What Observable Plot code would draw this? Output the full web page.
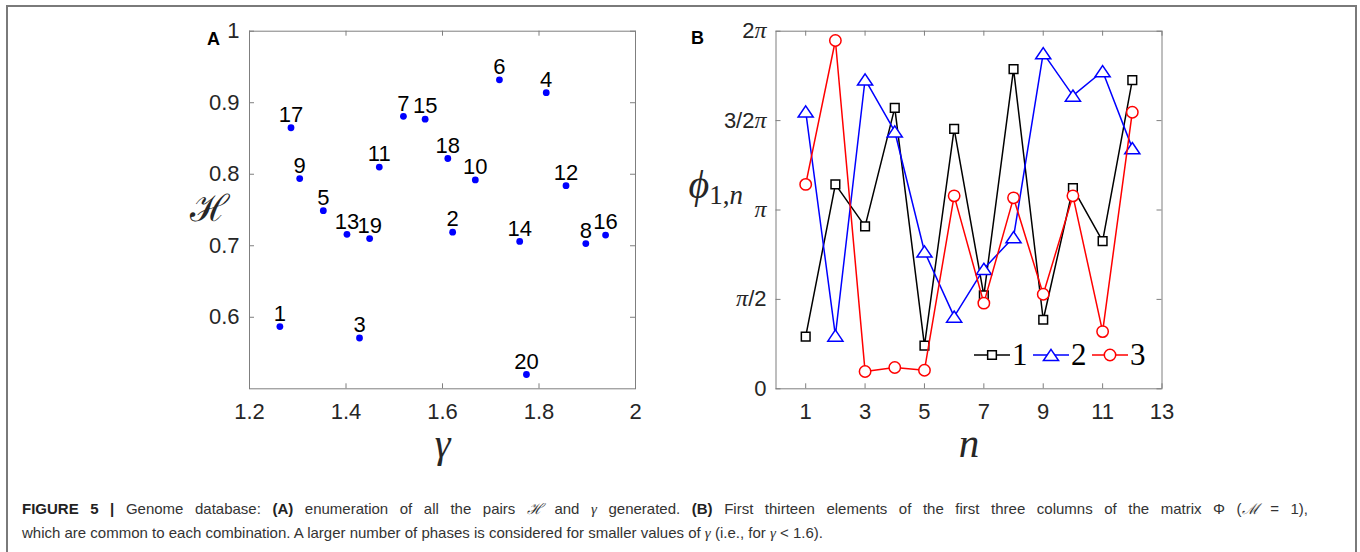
<!DOCTYPE html>
<html>
<head>
<meta charset="utf-8">
<script src="https://cdn.jsdelivr.net/npm/d3@7"></script>
<script src="https://cdn.jsdelivr.net/npm/@observablehq/plot@0.6"></script>
<style>
  body { margin: 0; background: #fff; }
  #fig { position: relative; width: 1360px; height: 552px; overflow: hidden; background: #fff;
         font-family: "Liberation Sans", Arial, sans-serif; }
  #border { position: absolute; left: 6px; top: 5px; width: 1347px; height: 600px; border: 2px solid #7a7a7a; }
  .panel { position: absolute; top: 0; width: 500px; height: 470px; }
  #legend { position: absolute; left: 0; top: 0; }
  #caption { position: absolute; left: 22px; top: 496.6px; width: 1286px; font-size: 15px; line-height: 23px;
             color: #333; }
  #caption .full { text-align: justify; text-align-last: justify; white-space: nowrap; }
  #caption .last { white-space: nowrap; }
  #caption b { color: #222; }
  .m { font-family: "Liberation Serif", "DejaVu Serif", serif; font-style: italic; }
</style>
</head>
<body>
<div id="fig">
  <div id="border"></div>
  <div id="panelA" class="panel" style="left:150px"></div>
  <div id="panelB" class="panel" style="left:680px"></div>
  <svg id="legend" width="1360" height="552"></svg>
  <div id="caption">
    <div class="full"><b>FIGURE 5 |</b> Genome database: <b>(A)</b> enumeration of all the pairs <span class="m">ℋ</span> and <span class="m">γ</span> generated. <b>(B)</b> First thirteen elements of the first three columns of the matrix Φ (<span class="m">ℳ</span> = 1),</div>
    <div class="last">which are common to each combination. A larger number of phases is considered for smaller values of <span class="m">γ</span> (i.e., for <span class="m">γ</span> &lt; 1.6).</div>
  </div>
</div>
<script>
// ---- Panel A: the (γ, ℋ) pair of each genome combination ----
const pairId   = [1, 2, 3, 4, 5, 6, 7, 8, 9, 10, 11, 12, 13, 14, 15, 16, 17, 18, 19, 20];
const gamma    = [1.263, 1.621, 1.428, 1.815, 1.353, 1.718, 1.519, 1.897, 1.304, 1.668,
                  1.469, 1.856, 1.402, 1.760, 1.564, 1.938, 1.286, 1.611, 1.449, 1.774];
const entropyH = [0.587, 0.719, 0.571, 0.914, 0.749, 0.932, 0.881, 0.703, 0.794, 0.792,
                  0.810, 0.784, 0.716, 0.706, 0.877, 0.715, 0.865, 0.822, 0.710, 0.520];
const gammaTicks = [1.2, 1.4, 1.6, 1.8, 2];
const hTicks     = [0.6, 0.7, 0.8, 0.9, 1];

// ---- Panel B: first elements of the first three columns of Φ (radians) ----
const nIndex = [1, 2, 3, 4, 5, 6, 7, 8, 9, 10, 11, 12];
const seriesNames = ["1", "2", "3"];
const phaseCol1 = [0.917, 3.591, 2.853, 4.935, 0.760, 4.568, 1.640, 5.617, 1.213, 3.525, 2.595, 5.422];
const phaseCol2 = [4.873, 0.936, 5.435, 4.521, 2.413, 1.269, 2.108, 2.664, 5.897, 5.152, 5.580, 4.229];
const phaseCol3 = [3.591, 6.120, 0.305, 0.374, 0.327, 3.390, 1.505, 3.355, 1.662, 3.390, 1.005, 4.860];
const nTicks = [1, 3, 5, 7, 9, 11, 13];
const phaseTicks = [0, Math.PI / 2, Math.PI, 3 * Math.PI / 2, 2 * Math.PI];
const phaseTickLabels = ["0", "π/2", "π", "3/2π", "2π"];

// ---- shared styling ----
const SANS = "'Liberation Sans', Arial, Helvetica, sans-serif";
const SERIF = "'Liberation Serif', 'DejaVu Serif', serif";
const FRAME_COLOR = "#7f7f7f";
const TEXT_COLOR = "#262626";
const SVG_W = 500, SVG_H = 470;
const FRAME_W = 386, FRAME_H = 357.6, M_TOP = 30.7;
const M_BOTTOM = SVG_H - M_TOP - FRAME_H;
const TICK_LEN = 5;

// MATLAB-style triangle: wider than tall, centred on its bounding box
const symbolTriangleWide = {
  draw(context, size) {
    const r = Math.sqrt(size / Math.PI);
    context.moveTo(0, -r);
    context.lineTo(1.35 * r, r);
    context.lineTo(-1.35 * r, r);
    context.closePath();
  }
};
const seriesColors  = ["#000000", "#0000ff", "#ff0000"];
const seriesSymbols = [d3.symbolSquare, symbolTriangleWide, d3.symbolCircle];
const seriesRadius  = [4.9, 5.6, 5.7];

// inward ticks on all four sides of the box
function boxTicks(xt, yt) {
  const o = {stroke: FRAME_COLOR, strokeWidth: 1};
  return [
    Plot.tickX(xt, {x: d => d, insetTop: FRAME_H - TICK_LEN, ...o}),
    Plot.tickX(xt, {x: d => d, insetBottom: FRAME_H - TICK_LEN, ...o}),
    Plot.tickY(yt, {y: d => d, insetRight: FRAME_W - TICK_LEN, ...o}),
    Plot.tickY(yt, {y: d => d, insetLeft: FRAME_W - TICK_LEN, ...o})
  ];
}

const svgStyle = {fontFamily: SANS, fontSize: "22px", color: TEXT_COLOR, background: "transparent", overflow: "visible"};

// ---- Panel A ----
const pairs = pairId.map((id, i) => ({id, gamma: gamma[i], H: entropyH[i]}));
const mlA = 99;
const plotA = Plot.plot({
  width: SVG_W, height: SVG_H,
  marginLeft: mlA, marginRight: SVG_W - mlA - FRAME_W, marginTop: M_TOP, marginBottom: M_BOTTOM,
  style: svgStyle,
  x: {domain: [1.2, 2]},
  y: {domain: [0.5, 1]},
  marks: [
    Plot.frame({stroke: FRAME_COLOR}),
    ...boxTicks(gammaTicks, hTicks),
    Plot.axisX(gammaTicks, {tickSize: 0, tickPadding: 15, tickFormat: d => String(d), label: null, fill: TEXT_COLOR}),
    Plot.axisY(hTicks, {tickSize: 0, tickPadding: 10, tickFormat: d => String(d), label: null, fill: TEXT_COLOR}),
    Plot.dot(pairs, {x: "gamma", y: "H", r: 3.4, fill: "#0000ff"}),
    Plot.text(pairs, {x: "gamma", y: "H", text: d => String(d.id), lineAnchor: "bottom", dy: -5.7, fill: "#000"}),
    Plot.text(["γ"], {frameAnchor: "bottom", lineAnchor: "bottom", dy: 68, fontFamily: SERIF, fontStyle: "italic", fontSize: 40, fill: TEXT_COLOR}),
    Plot.text(["ℋ"], {frameAnchor: "left", lineAnchor: "bottom", dx: -60, dy: 10.5, fontFamily: "'DejaVu Serif', serif", fontSize: 37, fill: TEXT_COLOR}),
    Plot.text(["A"], {frameAnchor: "top-left", lineAnchor: "bottom", dx: -42.5, dy: 13.6, fontWeight: "bold", fontSize: 18, fill: "#000"})
  ]
});
document.getElementById("panelA").append(plotA);

// ---- Panel B ----
const phaseCols = [phaseCol1, phaseCol2, phaseCol3];
const phaseRows = [];
seriesNames.forEach((s, k) => nIndex.forEach((n, i) => phaseRows.push({series: s, k, n, phi: phaseCols[k][i]})));
const seriesMarks = seriesNames.flatMap((s, k) => {
  const rows = phaseRows.filter(d => d.k === k);
  return [
    Plot.line(rows, {x: "n", y: "phi", stroke: seriesColors[k], strokeWidth: 1.5}),
    Plot.dot(rows, {x: "n", y: "phi", symbol: seriesSymbols[k], r: seriesRadius[k], stroke: seriesColors[k], fill: "white", strokeWidth: 1.5})
  ];
});
const phiLabel = "ϕ1,n";
const mlB = 95.5;
const plotB = Plot.plot({
  width: SVG_W, height: SVG_H,
  marginLeft: mlB, marginRight: SVG_W - mlB - FRAME_W, marginTop: M_TOP, marginBottom: M_BOTTOM,
  style: svgStyle,
  x: {domain: [0, 13]},
  y: {domain: [0, 2 * Math.PI]},
  marks: [
    Plot.frame({stroke: FRAME_COLOR}),
    ...boxTicks(nTicks, phaseTicks),
    Plot.axisX(nTicks, {tickSize: 0, tickPadding: 15, tickFormat: d => String(d), label: null, fill: TEXT_COLOR}),
    Plot.axisY(phaseTicks, {tickSize: 0, tickPadding: 9.5, tickFormat: (d, i) => phaseTickLabels[i], label: null, fill: TEXT_COLOR}),
    ...seriesMarks,
    Plot.text(["n"], {frameAnchor: "bottom", lineAnchor: "bottom", dy: 68.4, fontFamily: SERIF, fontStyle: "italic", fontSize: 41, fill: TEXT_COLOR}),
    Plot.text([phiLabel], {frameAnchor: "left", textAnchor: "start", lineAnchor: "bottom", dx: -87.5, dy: -12, fontFamily: SERIF, fontStyle: "italic", fontSize: 40, fill: TEXT_COLOR}),
    Plot.text(["B"], {frameAnchor: "top-left", lineAnchor: "bottom", dx: -85, dy: 12.6, fontWeight: "bold", fontSize: 18, fill: "#000"})
  ]
});
document.getElementById("panelB").append(plotB);

// φ with its subscript 1,n
d3.select(plotB).selectAll("text").filter(function () { return this.textContent === phiLabel; }).each(function () {
  const t = d3.select(this).text(null);
  t.append("tspan").text("ϕ");
  t.append("tspan").attr("font-size", 27).attr("font-style", "normal").attr("dy", 6).text("1,");
  t.append("tspan").attr("font-size", 27).text("n");
});

// π in the tick labels set in the math face
d3.select(plotB).selectAll('g[aria-label="y-axis tick label"] text').each(function () {
  const s = this.textContent;
  const t = d3.select(this).text(null);
  for (const part of s.split(/(π)/)) {
    if (!part) continue;
    const sp = t.append("tspan").text(part);
    if (part === "π") sp.attr("font-family", SERIF).attr("font-style", "italic").attr("font-size", 24);
  }
});

// ---- legend for panel B ----
const LEGEND_X = 974, LEGEND_Y = 355, LEGEND_STEP = 59, LEGEND_LINE = 36;
const legend = d3.select("#legend");
seriesNames.forEach((name, k) => {
  const g = legend.append("g").attr("transform", `translate(${LEGEND_X + k * LEGEND_STEP},${LEGEND_Y})`);
  g.append("line").attr("x1", 0).attr("x2", LEGEND_LINE).attr("stroke", seriesColors[k]).attr("stroke-width", 1.5);
  g.append("path")
    .attr("d", d3.symbol(seriesSymbols[k], seriesRadius[k] * seriesRadius[k] * Math.PI)())
    .attr("transform", `translate(${LEGEND_LINE / 2},0)`)
    .attr("fill", "white").attr("stroke", seriesColors[k]).attr("stroke-width", 1.5);
  g.append("text").attr("x", LEGEND_LINE + 2).attr("y", 9.5)
    .attr("font-family", SERIF).attr("font-size", 31).attr("fill", "#000").text(name);
});
</script>
</body>
</html>
